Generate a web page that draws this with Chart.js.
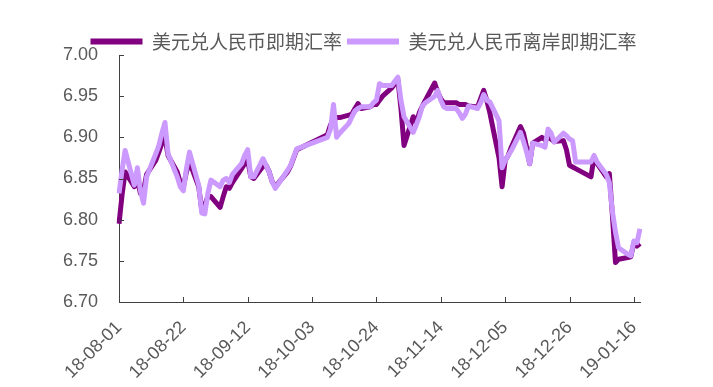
<!DOCTYPE html>
<html><head><meta charset="utf-8">
<script src="https://cdn.jsdelivr.net/npm/chart.js@4/dist/chart.umd.min.js"></script>
<style>html,body{margin:0;padding:0;background:#fff}#wrap{width:713px;height:387px}</style>
</head><body><div id="wrap"><canvas id="c" width="713" height="387"></canvas></div>
<script>
const seriesNames = ['美元兑人民币即期汇率', '美元兑人民币离岸即期汇率'];
const axisStart = '2018-08-01';
const axisEnd = '2019-01-18';
const tickLabels = ['18-08-01','18-08-22','18-09-12','18-10-03','18-10-24','18-11-14','18-12-05','18-12-26','19-01-16'];
const tradeDates = [
 '18-08-01','18-08-02','18-08-03','18-08-06','18-08-07','18-08-08','18-08-09','18-08-10',
 '18-08-13','18-08-14','18-08-15','18-08-16','18-08-17','18-08-20','18-08-21','18-08-22','18-08-23','18-08-24',
 '18-08-27','18-08-28','18-08-29','18-08-30','18-08-31',
 '18-09-03','18-09-04','18-09-05','18-09-06','18-09-07','18-09-10','18-09-11','18-09-12','18-09-13','18-09-14',
 '18-09-17','18-09-18','18-09-19','18-09-20','18-09-21','18-09-25','18-09-26','18-09-27','18-09-28',
 '18-10-08','18-10-09','18-10-10','18-10-11','18-10-12','18-10-15','18-10-16','18-10-17','18-10-18','18-10-19',
 '18-10-22','18-10-23','18-10-24','18-10-25','18-10-26','18-10-29','18-10-30','18-10-31',
 '18-11-01','18-11-02','18-11-05','18-11-06','18-11-07','18-11-08','18-11-09','18-11-12','18-11-13','18-11-14',
 '18-11-15','18-11-16','18-11-19','18-11-20','18-11-21','18-11-22','18-11-23','18-11-26','18-11-27','18-11-28',
 '18-11-29','18-11-30',
 '18-12-03','18-12-04','18-12-05','18-12-06','18-12-07','18-12-10','18-12-11','18-12-12','18-12-13','18-12-14',
 '18-12-17','18-12-18','18-12-19','18-12-20','18-12-21','18-12-24','18-12-25','18-12-26','18-12-27','18-12-28',
 '19-01-02','19-01-03','19-01-04','19-01-07','19-01-08','19-01-09','19-01-10','19-01-11','19-01-14','19-01-15',
 '19-01-16','19-01-17','19-01-18'
];
const cnySpot = [
 6.795,6.830,6.858,6.840,6.848,6.832,6.835,6.855,
 6.872,6.882,6.893,6.900,6.878,6.858,6.845,6.840,6.858,6.870,
 6.840,6.812,6.818,6.828,6.828,
 6.815,6.828,6.840,6.838,6.845,6.862,6.868,6.872,6.852,6.850,
 6.865,6.866,6.858,6.846,6.840,6.858,6.865,6.875,6.885,
 6.903,6.915,6.920,6.924,6.924,6.927,6.928,6.935,6.941,6.935,
 6.937,6.940,6.940,6.945,6.950,6.960,6.965,6.970,
 6.935,6.890,6.925,6.918,6.930,6.938,6.945,6.966,6.955,6.947,
 6.942,6.942,6.942,6.940,6.940,6.940,6.938,6.937,6.947,6.957,
 6.945,6.930,
 6.875,6.840,6.872,6.878,6.888,6.913,6.905,6.888,6.868,6.893,
 6.900,6.897,6.900,6.898,6.895,6.896,6.885,6.866,6.864,6.862,
 6.852,6.876,6.868,6.852,6.856,6.805,6.748,6.752,6.754,6.755,
 6.772,6.768,6.771
];
const cnhSpot = [
 6.832,6.860,6.884,6.842,6.863,6.835,6.820,6.852,
 6.880,6.890,6.905,6.918,6.880,6.852,6.840,6.835,6.862,6.882,
 6.842,6.808,6.807,6.832,6.848,
 6.840,6.848,6.850,6.845,6.855,6.868,6.878,6.885,6.852,6.852,
 6.874,6.866,6.858,6.846,6.838,6.860,6.866,6.876,6.886,
 6.900,6.910,6.940,6.900,6.905,6.917,6.925,6.932,6.935,6.937,
 6.937,6.942,6.945,6.965,6.963,6.963,6.968,6.973,
 6.945,6.925,6.906,6.915,6.925,6.938,6.942,6.950,6.957,6.945,
 6.937,6.935,6.935,6.930,6.923,6.928,6.938,6.935,6.942,6.952,
 6.945,6.943,
 6.920,6.863,6.872,6.878,6.884,6.906,6.895,6.882,6.868,6.893,
 6.890,6.888,6.910,6.905,6.894,6.905,6.902,6.898,6.896,6.870,
 6.870,6.878,6.870,6.855,6.845,6.810,6.785,6.766,6.758,6.756,
 6.774,6.772,6.789
];

// calendar-day category axis
function fmt(d){const y=String(d.getUTCFullYear()).slice(2),m=String(d.getUTCMonth()+1).padStart(2,'0'),dd=String(d.getUTCDate()).padStart(2,'0');return y+'-'+m+'-'+dd;}
const calendarDays=[];
for(let d=new Date(axisStart+'T00:00:00Z');d<=new Date(axisEnd+'T00:00:00Z');d=new Date(d.getTime()+86400000)) calendarDays.push(fmt(d));

const axisColor='#404040', textColor='#595959';
const numFont="'Liberation Sans', Arial, sans-serif";

const innerTicks={id:'innerTicks',afterDraw(chart){
  const ctx=chart.ctx,a=chart.chartArea,xs=chart.scales.x,ys=chart.scales.y;
  ctx.save();ctx.strokeStyle=axisColor;ctx.lineWidth=1;ctx.beginPath();
  xs.ticks.forEach((t,i)=>{ if(t.label===null||t.label===undefined||t.label==='')return;
    const px=Math.round(xs.getPixelForTick(i))+0.5; ctx.moveTo(px,a.bottom);ctx.lineTo(px,a.bottom-5);});
  ys.ticks.forEach((t,i)=>{const py=Math.round(ys.getPixelForTick(i))+0.5; ctx.moveTo(a.left,py);ctx.lineTo(a.left+5,py);});
  ctx.stroke();ctx.restore();
}};

new Chart(document.getElementById('c'),{
  type:'line',
  data:{labels:calendarDays,datasets:[
    {label:seriesNames[0],data:tradeDates.map((d,i)=>({x:d,y:cnySpot[i]})),borderColor:'#800080',backgroundColor:'#800080',borderWidth:5,pointRadius:0,tension:0,borderJoinStyle:'round',order:2},
    {label:seriesNames[1],data:tradeDates.map((d,i)=>({x:d,y:cnhSpot[i]})),borderColor:'#CC99FF',backgroundColor:'#CC99FF',borderWidth:5,pointRadius:0,tension:0,borderJoinStyle:'round',order:1}
  ]},
  options:{
    responsive:false,animation:false,devicePixelRatio:1,
    layout:{padding:{top:27,left:14,right:0,bottom:0}},
    plugins:{
      tooltip:{enabled:false},
      legend:{position:'top',maxHeight:28,labels:{
        font:{size:19,family:"'Noto Sans CJK SC', sans-serif"},color:textColor,
        boxWidth:52,boxHeight:6,padding:5,
        sort:(a,b)=>a.datasetIndex-b.datasetIndex,
        generateLabels:(chart)=>Chart.defaults.plugins.legend.labels.generateLabels(chart).map(l=>Object.assign(l,{lineWidth:0}))
      }}
    },
    scales:{
      x:{type:'category',offset:false,
        grid:{display:true,drawOnChartArea:false,drawTicks:false},
        border:{display:true,color:axisColor,width:1},
        ticks:{autoSkip:false,maxRotation:45,minRotation:45,padding:15,color:textColor,font:{size:18,family:numFont},
          callback:function(v,i){const l=this.getLabelForValue(v);return tickLabels.includes(l)?l:null;}},
        afterFit:(s)=>{s.height=85;}
      },
      y:{min:6.7,max:7.0,
        grid:{display:true,drawOnChartArea:false,drawTicks:false},
        border:{display:true,color:axisColor,width:1},
        ticks:{stepSize:0.05,padding:21,color:textColor,font:{size:18,family:numFont},callback:(v)=>Number(v).toFixed(2)},
        afterFit:(s)=>{s.width=105;}
      },
      yPad:{type:'linear',position:'right',display:true,
        grid:{display:false,drawTicks:false},border:{display:false},ticks:{display:false},
        afterFit:(s)=>{s.width=73;}
      }
    }
  },
  plugins:[innerTicks]
});
</script></body></html>
